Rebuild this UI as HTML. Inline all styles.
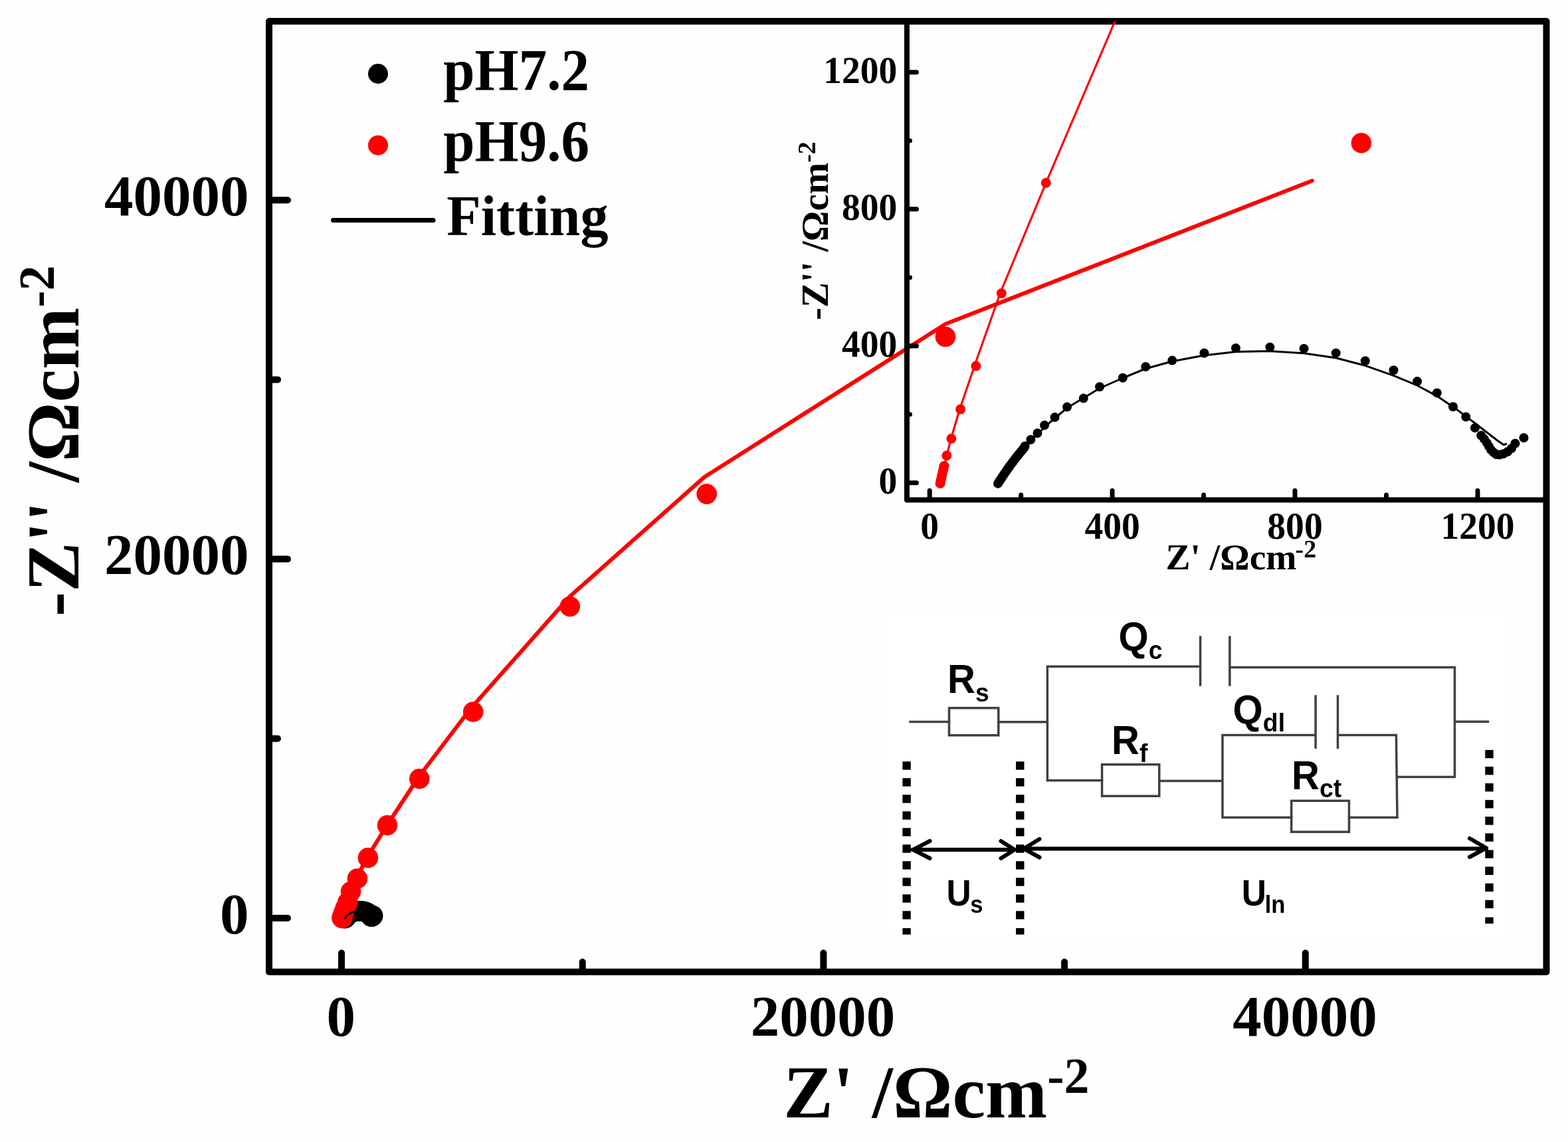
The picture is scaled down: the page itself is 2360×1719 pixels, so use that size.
<!DOCTYPE html>
<html><head><meta charset="utf-8"><title>Nyquist plot</title><style>html,body{margin:0;padding:0;background:#fefefe}svg{display:block}</style></head><body>
<svg width="2360" height="1719" viewBox="0 0 2360 1719">
<defs><clipPath id="ci"><rect x="1365" y="32" width="962.5" height="720.5"/></clipPath><clipPath id="cm"><rect x="405" y="32" width="1922.5" height="1431"/></clipPath></defs>
<rect width="2360" height="1719" fill="#fefefe"/>
<g clip-path="url(#cm)">
<circle cx="519.4" cy="1382.1" r="15.3" fill="#000"/>
<circle cx="519.5" cy="1381.9" r="15.3" fill="#000"/>
<circle cx="519.6" cy="1381.8" r="15.3" fill="#000"/>
<circle cx="519.7" cy="1381.7" r="15.3" fill="#000"/>
<circle cx="519.8" cy="1381.5" r="15.3" fill="#000"/>
<circle cx="519.9" cy="1381.4" r="15.3" fill="#000"/>
<circle cx="520" cy="1381.3" r="15.3" fill="#000"/>
<circle cx="520.1" cy="1381.1" r="15.3" fill="#000"/>
<circle cx="520.1" cy="1381" r="15.3" fill="#000"/>
<circle cx="520.2" cy="1380.8" r="15.3" fill="#000"/>
<circle cx="520.3" cy="1380.7" r="15.3" fill="#000"/>
<circle cx="520.4" cy="1380.6" r="15.3" fill="#000"/>
<circle cx="520.5" cy="1380.4" r="15.3" fill="#000"/>
<circle cx="520.6" cy="1380.3" r="15.3" fill="#000"/>
<circle cx="520.7" cy="1380.2" r="15.3" fill="#000"/>
<circle cx="520.9" cy="1380" r="15.3" fill="#000"/>
<circle cx="521" cy="1379.9" r="15.3" fill="#000"/>
<circle cx="521.1" cy="1379.8" r="15.3" fill="#000"/>
<circle cx="521.2" cy="1379.6" r="15.3" fill="#000"/>
<circle cx="521.3" cy="1379.5" r="15.3" fill="#000"/>
<circle cx="521.4" cy="1379.4" r="15.3" fill="#000"/>
<circle cx="521.5" cy="1379.2" r="15.3" fill="#000"/>
<circle cx="521.6" cy="1379.1" r="15.3" fill="#000"/>
<circle cx="522" cy="1378.6" r="15.3" fill="#000"/>
<circle cx="522.6" cy="1378.1" r="15.3" fill="#000"/>
<circle cx="523.1" cy="1377.5" r="15.3" fill="#000"/>
<circle cx="523.9" cy="1376.8" r="15.3" fill="#000"/>
<circle cx="524.9" cy="1376" r="15.3" fill="#000"/>
<circle cx="526.2" cy="1375.3" r="15.3" fill="#000"/>
<circle cx="527.5" cy="1374.4" r="15.3" fill="#000"/>
<circle cx="529.3" cy="1373.7" r="15.3" fill="#000"/>
<circle cx="531.2" cy="1372.8" r="15.3" fill="#000"/>
<circle cx="533.3" cy="1372.3" r="15.3" fill="#000"/>
<circle cx="535.8" cy="1371.8" r="15.3" fill="#000"/>
<circle cx="538.3" cy="1371.4" r="15.3" fill="#000"/>
<circle cx="541" cy="1371.3" r="15.3" fill="#000"/>
<circle cx="543.7" cy="1371.4" r="15.3" fill="#000"/>
<circle cx="546.3" cy="1371.8" r="15.3" fill="#000"/>
<circle cx="548.6" cy="1372.4" r="15.3" fill="#000"/>
<circle cx="550.9" cy="1373.1" r="15.3" fill="#000"/>
<circle cx="552.7" cy="1374" r="15.3" fill="#000"/>
<circle cx="554.3" cy="1374.9" r="15.3" fill="#000"/>
<circle cx="555.6" cy="1376" r="15.3" fill="#000"/>
<circle cx="556.6" cy="1376.8" r="15.3" fill="#000"/>
<circle cx="557.3" cy="1377.7" r="15.3" fill="#000"/>
<circle cx="557.8" cy="1378.3" r="15.3" fill="#000"/>
<circle cx="558.1" cy="1378.6" r="15.3" fill="#000"/>
<circle cx="558.3" cy="1378.8" r="15.3" fill="#000"/>
<circle cx="558.4" cy="1379.1" r="15.3" fill="#000"/>
<circle cx="558.6" cy="1379.4" r="15.3" fill="#000"/>
<circle cx="558.8" cy="1379.6" r="15.3" fill="#000"/>
<circle cx="559" cy="1379.8" r="15.3" fill="#000"/>
<circle cx="559.3" cy="1379.8" r="15.3" fill="#000"/>
<circle cx="559.6" cy="1379.7" r="15.3" fill="#000"/>
<circle cx="559.9" cy="1379.5" r="15.3" fill="#000"/>
<circle cx="560.2" cy="1379.3" r="15.3" fill="#000"/>
<circle cx="560.5" cy="1378.9" r="15.3" fill="#000"/>
<circle cx="561.2" cy="1378.4" r="15.3" fill="#000"/>
<circle cx="514.8" cy="1382.1" r="15.3" fill="#ff0000"/>
<circle cx="514.9" cy="1381.8" r="15.3" fill="#ff0000"/>
<circle cx="514.9" cy="1381.6" r="15.3" fill="#ff0000"/>
<circle cx="515" cy="1381.4" r="15.3" fill="#ff0000"/>
<circle cx="515" cy="1381.1" r="15.3" fill="#ff0000"/>
<circle cx="515.1" cy="1380.9" r="15.3" fill="#ff0000"/>
<circle cx="515.2" cy="1380.7" r="15.3" fill="#ff0000"/>
<circle cx="515.4" cy="1379.9" r="15.3" fill="#ff0000"/>
<circle cx="515.7" cy="1378.5" r="15.3" fill="#ff0000"/>
<circle cx="516.4" cy="1376.2" r="15.3" fill="#ff0000"/>
<circle cx="517.7" cy="1372.8" r="15.3" fill="#ff0000"/>
<circle cx="519.7" cy="1367" r="15.3" fill="#ff0000"/>
<circle cx="523.2" cy="1358.3" r="15.3" fill="#ff0000"/>
<circle cx="528" cy="1342" r="15.3" fill="#ff0000"/>
<circle cx="537.9" cy="1322.5" r="15.3" fill="#ff0000"/>
<circle cx="553.9" cy="1291.2" r="15.3" fill="#ff0000"/>
<circle cx="583" cy="1242.3" r="15.3" fill="#ff0000"/>
<circle cx="631.3" cy="1172.2" r="15.3" fill="#ff0000"/>
<circle cx="712.2" cy="1071.5" r="15.3" fill="#ff0000"/>
<circle cx="857.8" cy="913" r="15.3" fill="#ff0000"/>
<circle cx="1063.7" cy="743.6" r="15.3" fill="#ff0000"/>
<circle cx="1423" cy="507" r="15.3" fill="#ff0000"/>
<circle cx="2048.9" cy="215.3" r="15.3" fill="#ff0000"/>
<polyline points="519.4,1382.1 520.1,1381 520.9,1380 521.7,1379.1 522.6,1378.1 523.5,1377.2 524.9,1376.1 526.2,1375.3 527.5,1374.5 529.3,1373.7 531.1,1373 533.3,1372.4 535.8,1371.9 538.3,1371.7 541,1371.6 543.7,1371.8 546.3,1372.1 548.6,1372.7 550.9,1373.5 552.7,1374.3 554.3,1375.1 555.9,1376.2 557.3,1377.3 558.4,1378.1 559.2,1378.7 559.6,1379 559.8,1378.9" fill="none" stroke="#000" stroke-width="3" stroke-linejoin="round" stroke-linecap="round"/>
<polyline points="1975,272 1423.5,487.5 1060.3,718 857.5,898 708,1067 630.5,1169 582,1243 553,1290 537,1320.5 527,1341 523.2,1358.3 519.6,1367 517.6,1372.7 516.4,1376.2 515.7,1378.5 515.4,1379.9 515.2,1380.7 514.8,1382.1" fill="none" stroke="#ff0000" stroke-width="6" stroke-linejoin="round" stroke-linecap="round"/>
</g>
<rect x="405" y="32" width="1922.5" height="1431" fill="none" stroke="#000" stroke-width="10" stroke-linejoin="round"/>
<path d="M514 1463V1434.5 M1239.4 1463V1434.5 M1964.8 1463V1434.5 M876.7 1463V1448 M1602.1 1463V1448 M405 1382H433 M405 841.6H433 M405 301.2H433 M405 1111.8H418 M405 571.4H418" stroke="#000" stroke-width="10" stroke-linecap="round" fill="none"/>
<g style="font-family:'Liberation Serif','Times New Roman',serif;font-weight:bold;font-size:87px" fill="#000">
<text x="513.2" y="1558.5" text-anchor="middle">0</text>
<text x="1238.6" y="1558.5" text-anchor="middle">20000</text>
<text x="1964" y="1558.5" text-anchor="middle">40000</text>
<text x="374.5" y="1404.5" text-anchor="end">0</text>
<text x="374.5" y="864.1" text-anchor="end">20000</text>
<text x="374.5" y="323.7" text-anchor="end">40000</text>
</g>
<text x="1179.3" y="1682" style="font-family:'Liberation Serif','Times New Roman',serif;font-weight:bold;font-size:111.8px" fill="#000">Z' /Ωcm<tspan dy="-37.5" style="font-size:76px">-2</tspan></text>
<text transform="translate(118,928) rotate(-90)" style="font-family:'Liberation Serif','Times New Roman',serif;font-weight:bold;font-size:111.8px" fill="#000">-Z'' /Ωcm<tspan dy="-37.5" style="font-size:76px">-2</tspan></text>
<circle cx="569" cy="111" r="15" fill="#000"/>
<circle cx="569" cy="218.7" r="15" fill="#ff0000"/>
<path d="M501.5 331.5H652" stroke="#000" stroke-width="7" stroke-linecap="round"/>
<g style="font-family:'Liberation Serif','Times New Roman',serif;font-weight:bold;font-size:87px" fill="#000">
<text x="667.3" y="135" textLength="219.6" lengthAdjust="spacingAndGlyphs" style="font-size:89px">pH7.2</text>
<text x="667.3" y="242" textLength="219.6" lengthAdjust="spacingAndGlyphs" style="font-size:89px">pH9.6</text>
<text x="672.3" y="354.3" textLength="243.2" lengthAdjust="spacingAndGlyphs">Fitting</text>
</g>
<g clip-path="url(#ci)">
<polyline points="1415.1,727.8 1421,701.6 1424.9,685.8 1431.5,660 1444.5,616 1467,550 1505.5,441 1574.3,275.3 1690,4" fill="none" stroke="#ff0000" stroke-width="3.2" stroke-linejoin="round"/>
<polyline points="1502,728 1515,708.5 1530,689.5 1545,671.5 1562,653 1580,636 1606,614 1631,599 1655,584.5 1690,569 1724,555 1764,544 1812,535 1860,529.5 1911,528.5 1962.6,531.7 2010.7,538.8 2054.8,550.3 2097.5,565.3 2133.1,580.2 2162.8,596.1 2192.7,616.4 2220,637 2240,652.5 2255,664 2263,669.5 2268,668" fill="none" stroke="#000" stroke-width="3" stroke-linejoin="round"/>
<circle cx="1502" cy="727.9" r="7" fill="#000"/>
<circle cx="1503.7" cy="725.3" r="7" fill="#000"/>
<circle cx="1505.3" cy="722.8" r="7" fill="#000"/>
<circle cx="1507" cy="720.2" r="7" fill="#000"/>
<circle cx="1508.7" cy="717.6" r="7" fill="#000"/>
<circle cx="1510.4" cy="715" r="7" fill="#000"/>
<circle cx="1512.1" cy="712.5" r="7" fill="#000"/>
<circle cx="1513.9" cy="709.9" r="7" fill="#000"/>
<circle cx="1515.7" cy="707.3" r="7" fill="#000"/>
<circle cx="1517.5" cy="704.8" r="7" fill="#000"/>
<circle cx="1519.3" cy="702.2" r="7" fill="#000"/>
<circle cx="1521.2" cy="699.6" r="7" fill="#000"/>
<circle cx="1523.1" cy="697" r="7" fill="#000"/>
<circle cx="1525.1" cy="694.5" r="7" fill="#000"/>
<circle cx="1527" cy="691.9" r="7" fill="#000"/>
<circle cx="1529" cy="689.3" r="7" fill="#000"/>
<circle cx="1531.1" cy="686.8" r="7" fill="#000"/>
<circle cx="1533.1" cy="684.2" r="7" fill="#000"/>
<circle cx="1535.2" cy="681.6" r="7" fill="#000"/>
<circle cx="1537.3" cy="679" r="7" fill="#000"/>
<circle cx="1539.4" cy="676.5" r="7" fill="#000"/>
<circle cx="1541.5" cy="673.9" r="7" fill="#000"/>
<circle cx="1542.6" cy="671.4" r="7" fill="#000"/>
<circle cx="1551.4" cy="661.7" r="7" fill="#000"/>
<circle cx="1561.5" cy="652" r="7" fill="#000"/>
<circle cx="1572.1" cy="640.1" r="7" fill="#000"/>
<circle cx="1587.6" cy="628.1" r="7" fill="#000"/>
<circle cx="1606.1" cy="612.6" r="7" fill="#000"/>
<circle cx="1630.8" cy="599.6" r="7" fill="#000"/>
<circle cx="1655.1" cy="582.3" r="7" fill="#000"/>
<circle cx="1689.9" cy="568.7" r="7" fill="#000"/>
<circle cx="1724.3" cy="552" r="7" fill="#000"/>
<circle cx="1764.3" cy="542.6" r="7" fill="#000"/>
<circle cx="1812.5" cy="531.5" r="7" fill="#000"/>
<circle cx="1860" cy="524" r="7" fill="#000"/>
<circle cx="1911.4" cy="522.6" r="7" fill="#000"/>
<circle cx="1962.6" cy="524.7" r="7" fill="#000"/>
<circle cx="2010.7" cy="531.4" r="7" fill="#000"/>
<circle cx="2054.8" cy="543.2" r="7" fill="#000"/>
<circle cx="2097.5" cy="557.3" r="7" fill="#000"/>
<circle cx="2133.1" cy="574.1" r="7" fill="#000"/>
<circle cx="2162.8" cy="591.4" r="7" fill="#000"/>
<circle cx="2187" cy="612.2" r="7" fill="#000"/>
<circle cx="2206.3" cy="627.5" r="7" fill="#000"/>
<circle cx="2220" cy="644" r="7" fill="#000"/>
<circle cx="2229.3" cy="655.5" r="7" fill="#000"/>
<circle cx="2234" cy="661" r="7" fill="#000"/>
<circle cx="2237.9" cy="666.6" r="7" fill="#000"/>
<circle cx="2241" cy="672" r="7" fill="#000"/>
<circle cx="2244" cy="677" r="7" fill="#000"/>
<circle cx="2248" cy="681" r="7" fill="#000"/>
<circle cx="2252" cy="684" r="7" fill="#000"/>
<circle cx="2257" cy="684.5" r="7" fill="#000"/>
<circle cx="2263" cy="683" r="7" fill="#000"/>
<circle cx="2269" cy="680" r="7" fill="#000"/>
<circle cx="2275" cy="675" r="7" fill="#000"/>
<circle cx="2280.5" cy="667.5" r="7" fill="#000"/>
<circle cx="2293.5" cy="659" r="7" fill="#000"/>
<circle cx="1415.1" cy="727.8" r="7.5" fill="#ff0000"/>
<circle cx="1416" cy="723.5" r="7.5" fill="#ff0000"/>
<circle cx="1417" cy="719" r="7.5" fill="#ff0000"/>
<circle cx="1418" cy="714.5" r="7.5" fill="#ff0000"/>
<circle cx="1419" cy="710" r="7.5" fill="#ff0000"/>
<circle cx="1420" cy="705.8" r="7.5" fill="#ff0000"/>
<circle cx="1421" cy="701.6" r="7.5" fill="#ff0000"/>
<circle cx="1424.9" cy="685.8" r="7.5" fill="#ff0000"/>
<circle cx="1431.9" cy="660.2" r="7.5" fill="#ff0000"/>
<circle cx="1445.6" cy="616.1" r="7.5" fill="#ff0000"/>
<circle cx="1468.9" cy="551" r="7.5" fill="#ff0000"/>
<circle cx="1507.3" cy="441.5" r="7.5" fill="#ff0000"/>
<circle cx="1574.3" cy="275.3" r="7.5" fill="#ff0000"/>
</g>
<path d="M1365 32V752.5H2327.5" fill="none" stroke="#000" stroke-width="8" stroke-linejoin="round"/>
<path d="M1365 726.7H1379.5 M1399.2 752.5V738.5 M1365 520.7H1379.5 M1674.1 752.5V738.5 M1365 314.7H1379.5 M1949 752.5V738.5 M1365 108.7H1379.5 M2224 752.5V738.5 M1365 623.7H1369.5 M1536.7 752.5V745 M1365 417.7H1369.5 M1811.6 752.5V745 M1365 211.7H1369.5 M2086.5 752.5V745" stroke="#000" stroke-width="7" stroke-linecap="round" fill="none"/>
<g style="font-family:'Liberation Serif','Times New Roman',serif;font-weight:bold;font-size:57px" fill="#000">
<text x="1350.3" y="742.7" text-anchor="end" textLength="27.8" lengthAdjust="spacingAndGlyphs">0</text>
<text x="1399.2" y="811" text-anchor="middle" textLength="27.8" lengthAdjust="spacingAndGlyphs">0</text>
<text x="1350.3" y="536.7" text-anchor="end" textLength="83.4" lengthAdjust="spacingAndGlyphs">400</text>
<text x="1674.1" y="811" text-anchor="middle" textLength="83.4" lengthAdjust="spacingAndGlyphs">400</text>
<text x="1350.3" y="330.7" text-anchor="end" textLength="83.4" lengthAdjust="spacingAndGlyphs">800</text>
<text x="1949" y="811" text-anchor="middle" textLength="83.4" lengthAdjust="spacingAndGlyphs">800</text>
<text x="1350.3" y="124.7" text-anchor="end" textLength="111.1" lengthAdjust="spacingAndGlyphs">1200</text>
<text x="2224" y="811" text-anchor="middle" textLength="111.1" lengthAdjust="spacingAndGlyphs">1200</text>
</g>
<text x="1754.5" y="857.4" style="font-family:'Liberation Serif','Times New Roman',serif;font-weight:bold;font-size:55.5px" fill="#000">Z' /Ωcm<tspan dx="-2" dy="-18.4" style="font-size:38px">-2</tspan></text>
<text transform="translate(1246,482) rotate(-90)" style="font-family:'Liberation Serif','Times New Roman',serif;font-weight:bold;font-size:57px" fill="#000">-Z'' /Ωcm<tspan dy="-19" style="font-size:38px">-2</tspan></text>
<rect x="1338" y="925" width="933" height="482" fill="#ffffff"/>
<path d="M1370 1086.5H1428.5 M1502.8 1086.8H1576.4 M1576.4 1003.2V1174.5 M1576.4 1003.2H1806.6 M1806.6 959V1031M1850.9 959V1031 M1850.9 1004.5H2189.5V1169.5 M2189.5 1086.3H2239.5 M1576.4 1174.8H1658.6 M1744.8 1175.5H1840 M1840 1106.6V1230.5 M1840 1106.6H1980.1 M1980.1 1048V1125.2M2013.5 1048V1125.2 M2013.5 1106.6H2101.4L2103 1230.5 M1840 1230.5H1943.7M2030.5 1230.5H2103 M2102.5 1169.6H2189.5" stroke="#404040" stroke-width="3.5" fill="none" stroke-linecap="square"/>
<rect x="1428.5" y="1065.7" width="74.3" height="41.1" fill="none" stroke="#404040" stroke-width="3.5"/>
<rect x="1658.6" y="1150.8" width="86.2" height="47.5" fill="none" stroke="#404040" stroke-width="3.5"/>
<rect x="1943.7" y="1205.4" width="86.8" height="46.8" fill="none" stroke="#404040" stroke-width="3.5"/>
<rect x="1358.4" y="1146.3" width="12.4" height="12.4" fill="#000"/><rect x="1358.4" y="1171.3" width="12.4" height="12.4" fill="#000"/><rect x="1358.4" y="1196.3" width="12.4" height="12.4" fill="#000"/><rect x="1358.4" y="1221.3" width="12.4" height="12.4" fill="#000"/><rect x="1358.4" y="1246.3" width="12.4" height="12.4" fill="#000"/><rect x="1358.4" y="1271.3" width="12.4" height="12.4" fill="#000"/><rect x="1358.4" y="1296.3" width="12.4" height="12.4" fill="#000"/><rect x="1358.4" y="1321.3" width="12.4" height="12.4" fill="#000"/><rect x="1358.4" y="1346.3" width="12.4" height="12.4" fill="#000"/><rect x="1358.4" y="1371.3" width="12.4" height="12.4" fill="#000"/><rect x="1358.4" y="1397.1" width="12.4" height="9.6" fill="#000"/><rect x="1529.1" y="1146.3" width="12.4" height="12.4" fill="#000"/><rect x="1529.1" y="1171.3" width="12.4" height="12.4" fill="#000"/><rect x="1529.1" y="1196.3" width="12.4" height="12.4" fill="#000"/><rect x="1529.1" y="1221.3" width="12.4" height="12.4" fill="#000"/><rect x="1529.1" y="1246.3" width="12.4" height="12.4" fill="#000"/><rect x="1529.1" y="1271.3" width="12.4" height="12.4" fill="#000"/><rect x="1529.1" y="1296.3" width="12.4" height="12.4" fill="#000"/><rect x="1529.1" y="1321.3" width="12.4" height="12.4" fill="#000"/><rect x="1529.1" y="1346.3" width="12.4" height="12.4" fill="#000"/><rect x="1529.1" y="1371.3" width="12.4" height="12.4" fill="#000"/><rect x="1529.1" y="1397.1" width="12.4" height="9.6" fill="#000"/><rect x="2235.3" y="1128.9" width="12.4" height="12.4" fill="#000"/><rect x="2235.3" y="1154" width="12.4" height="12.4" fill="#000"/><rect x="2235.3" y="1179.1" width="12.4" height="12.4" fill="#000"/><rect x="2235.3" y="1204.2" width="12.4" height="12.4" fill="#000"/><rect x="2235.3" y="1229.3" width="12.4" height="12.4" fill="#000"/><rect x="2235.3" y="1254.4" width="12.4" height="12.4" fill="#000"/><rect x="2235.3" y="1279.5" width="12.4" height="12.4" fill="#000"/><rect x="2235.3" y="1304.6" width="12.4" height="12.4" fill="#000"/><rect x="2235.3" y="1329.7" width="12.4" height="12.4" fill="#000"/><rect x="2235.3" y="1354.8" width="12.4" height="12.4" fill="#000"/><rect x="2235.3" y="1380.7" width="12.4" height="9.6" fill="#000"/>
<path d="M1373.5 1279H1526M1399.5 1266L1374.5 1279L1399.5 1292M1506.5 1266L1527 1279L1506.5 1292M1540 1277.5H2237M1564.5 1263L1541 1277.5L1564.5 1290.5M2212 1262L2237 1276.5L2212 1290" stroke="#000" stroke-width="6" fill="none" stroke-linecap="round" stroke-linejoin="round"/>
<g style="font-family:'Liberation Sans',Arial,sans-serif;font-weight:bold" fill="#000">
<text transform="translate(1426 1043.3) scale(0.96 1)" style="font-size:60.5px">R<tspan dx="0" dy="12.5" style="font-size:39px">s</tspan></text>
<text transform="translate(1683.5 979) scale(0.96 1)" style="font-size:60.5px">Q<tspan dx="0" dy="12.5" style="font-size:39px">c</tspan></text>
<text transform="translate(1855.6 1088.5) scale(0.96 1)" style="font-size:60.5px">Q<tspan dx="0" dy="12.5" style="font-size:39px">dl</tspan></text>
<text transform="translate(1673 1134.8) scale(0.96 1)" style="font-size:60.5px">R<tspan dx="0" dy="12.5" style="font-size:39px">f</tspan></text>
<text transform="translate(1944 1187.7) scale(0.96 1)" style="font-size:60.5px">R<tspan dx="0" dy="12.5" style="font-size:39px">ct</tspan></text>
<text transform="translate(1424.4 1363) scale(0.94 1)" style="font-size:54.8px">U<tspan dx="-1.5" dy="10.5" style="font-size:37px">s</tspan></text>
<text transform="translate(1868.8 1363) scale(0.94 1)" style="font-size:54.8px">U<tspan dx="-2.5" dy="10.5" style="font-size:37px">ln</tspan></text>
</g>
</svg>
</body></html>
